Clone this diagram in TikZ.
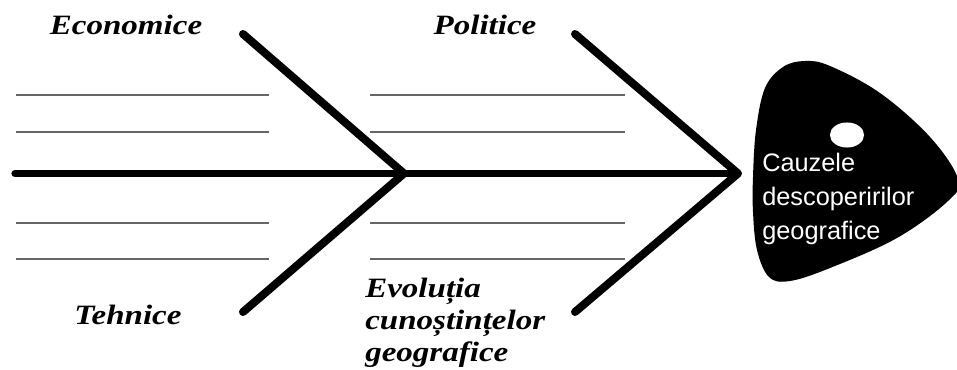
\documentclass[tikz,border=0pt]{standalone}
\usepackage{fontspec}
\setmainfont{Liberation Serif}
\newfontfamily\labfont[FakeStretch=1.18]{Liberation Serif}
\newfontfamily\headfont{Liberation Sans}
\begin{document}
\begin{tikzpicture}[x=0.75pt,y=-0.75pt,
  bone/.style={line width=6pt,line cap=round,line join=round},
  spine/.style={line width=5.5pt,line cap=round},
  rule/.style={line width=1.3pt,draw=black!60},
  cause/.style={inner sep=0pt,font=\labfont\bfseries\itshape\fontsize{21}{24}\selectfont},
  headtext/.style={inner sep=0pt,text=white,align=left,font=\headfont\fontsize{19}{25.5}\selectfont}]
\useasboundingbox (0,0) rectangle (957,370);
\fill[white] (0,0) rectangle (957,370);
% coordinates
\coordinate (tail) at (15,173.5);
\coordinate (v1) at (404,173.5);
\coordinate (v2) at (738,173.5);
\coordinate (b1t) at (243,34);
\coordinate (b1b) at (243,312);
\coordinate (b2t) at (575,34);
\coordinate (b2b) at (575,312);
% thin rules
\foreach \yy in {95,132,223,259}{
  \coordinate (la\yy) at (16,\yy); \coordinate (lb\yy) at (269,\yy);
  \coordinate (ra\yy) at (370,\yy); \coordinate (rb\yy) at (625,\yy);
  \draw[rule] (la\yy) -- (lb\yy);
  \draw[rule] (ra\yy) -- (rb\yy);
}
% spine and bones
\draw[spine] (tail) -- (v2);
\draw[bone] (b1t) -- (v1) -- (b1b);
\draw[bone] (b2t) -- (v2) -- (b2b);
% head
\fill[black] plot[smooth cycle,tension=0.6] coordinates {
 (753,177) (756,130) (765,88) (783,67) (805,61) (830,66) (880,93) (930,137) (958,179)
 (948,201) (897,238) (830,268) (790,281) (769,277) (757,250) (753,212)};
\fill[white] (847,135) ellipse [x radius=12.8pt, y radius=9.4pt];
\node[headtext,anchor=base west] (head) at (762,240) {Cauzele\\descoperirilor\\geografice};
% labels
\node[cause,anchor=base] (econ) at (126,35) {Economice};
\node[cause,anchor=base] (pol) at (485,35) {Politice};
\node[cause,anchor=base] (teh) at (128,325) {Tehnice};
\node[cause,anchor=base west,align=left] (evo) at (365,362) {Evoluția\\cunoștințelor\\geografice};
\end{tikzpicture}
\end{document}
